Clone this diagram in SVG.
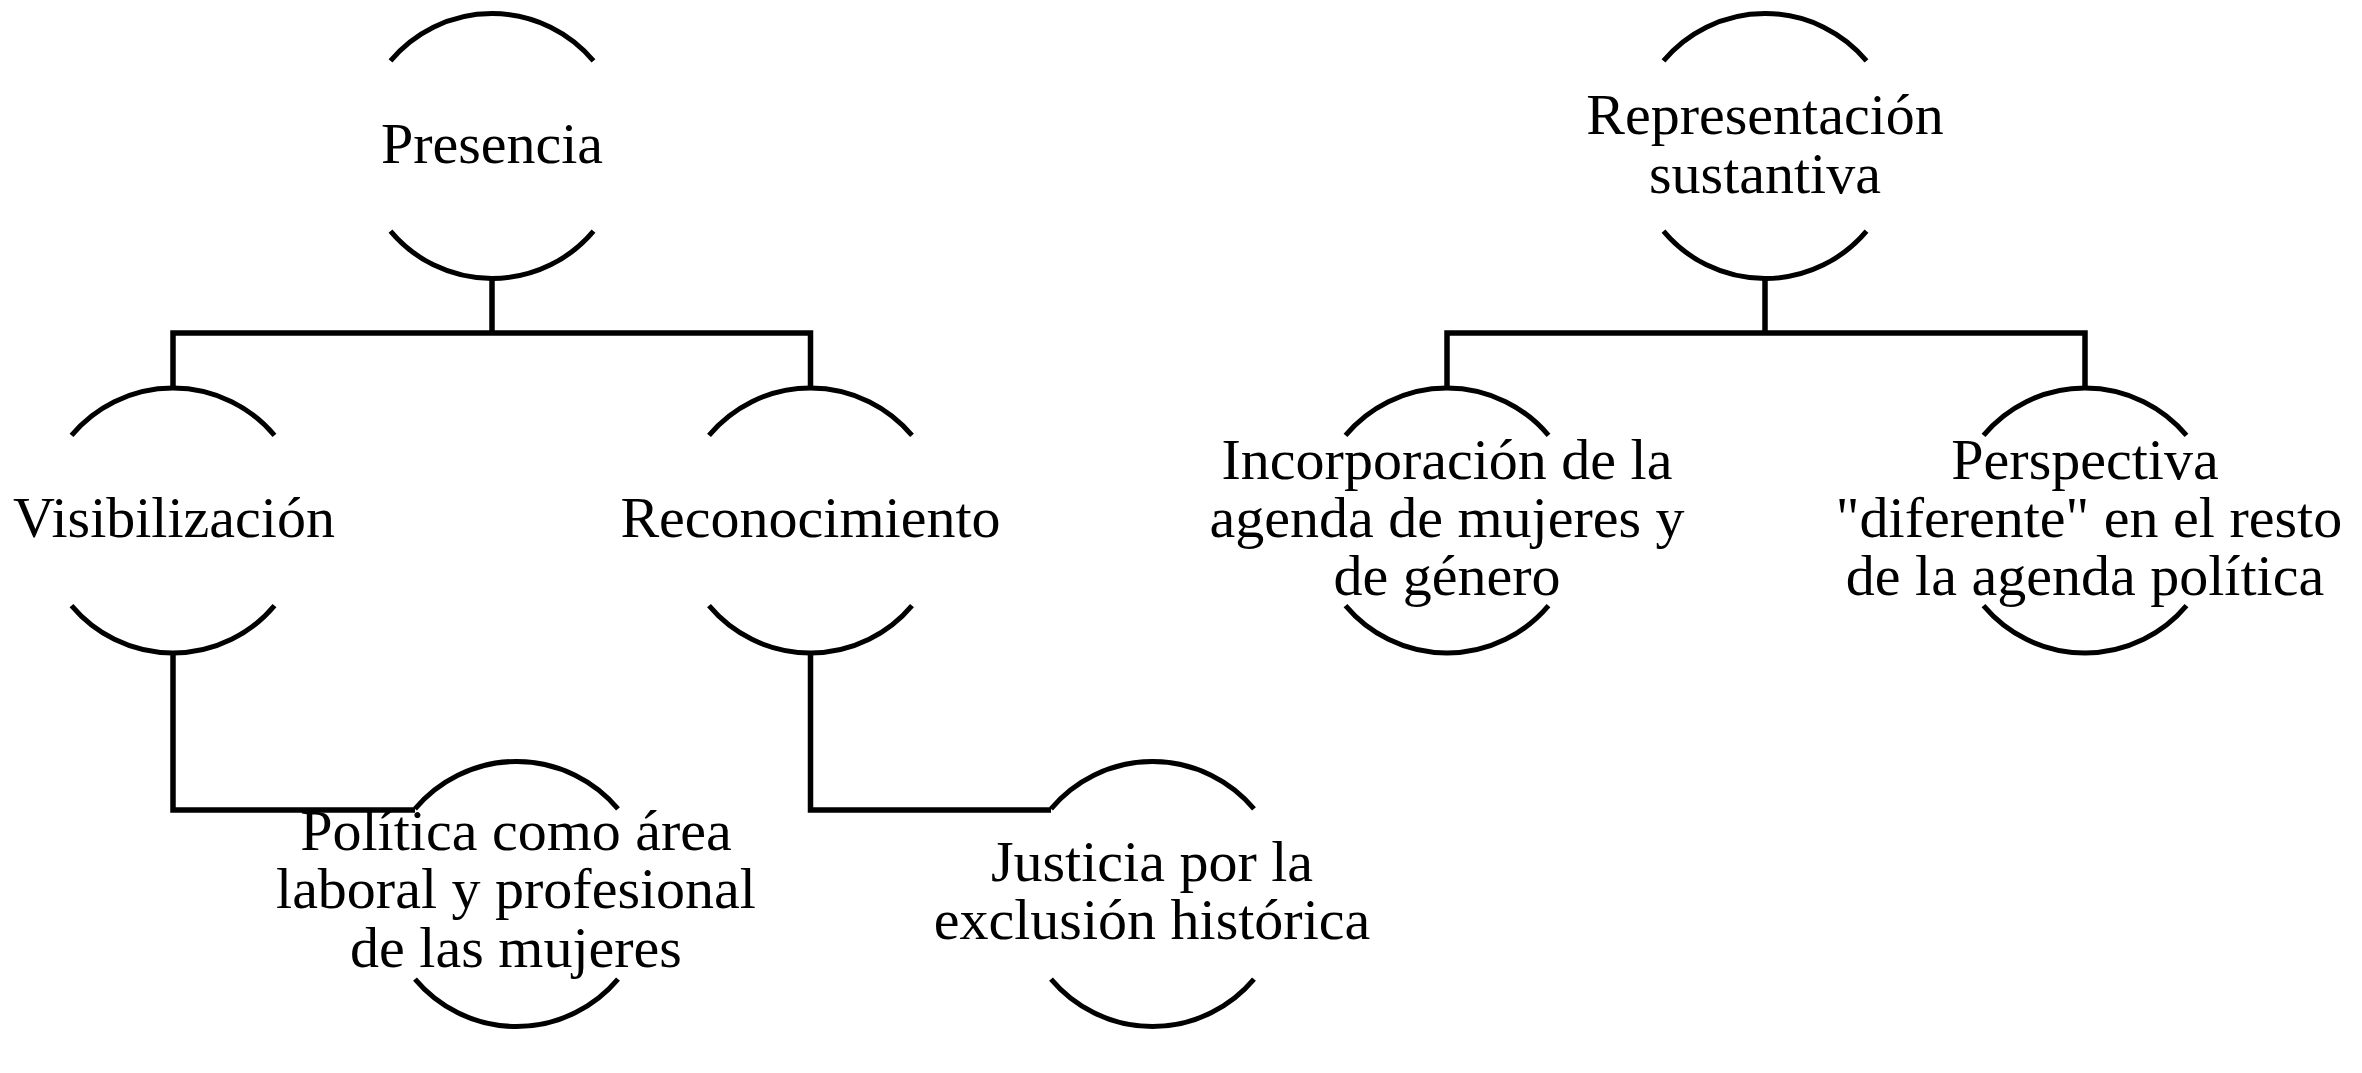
<svg xmlns="http://www.w3.org/2000/svg" xmlns:xlink="http://www.w3.org/1999/xlink" width="2362" height="1073" viewBox="0 0 2362 1073">
<style>
.arc{fill:none;stroke:#000;stroke-width:5}
.con{fill:none;stroke:#000;stroke-width:5.5;stroke-linejoin:miter}
.lbl{font-family:"Liberation Serif","Times New Roman",serif;font-size:58px;fill:#000;text-anchor:middle}
</style>
<defs>
<path id="ring" class="arc" d="M -101.5 -85.2 A 132.5 132.5 0 0 1 101.5 -85.2 M -101.5 85.2 A 132.5 132.5 0 0 0 101.5 85.2"/>
</defs>
<rect width="2362" height="1073" fill="#fff"/>
<g id="connectors">
<path class="con" d="M492 278 V333 M173 390 V333 H810.5 V390"/>
<path class="con" d="M1765 278 V333 M1447 390 V333 H2085 V390"/>
<path class="con" d="M173 652 V810 H415"/>
<path class="con" d="M810.5 652 V810 H1051"/>
</g>
<g id="presencia">
<use xlink:href="#ring" transform="translate(492,146)"/>
<text class="lbl" x="492" y="163">Presencia</text>
</g>
<g id="representacion">
<use xlink:href="#ring" transform="translate(1765,146)"/>
<text class="lbl" x="1765" y="134">Representación</text>
<text class="lbl" x="1765" y="193">sustantiva</text>
</g>
<g id="visibilizacion">
<use xlink:href="#ring" transform="translate(173,520.5)"/>
<text class="lbl" x="174" y="537">Visibilización</text>
</g>
<g id="reconocimiento">
<use xlink:href="#ring" transform="translate(810.5,520.5)"/>
<text class="lbl" x="810.5" y="537">Reconocimiento</text>
</g>
<g id="incorporacion">
<use xlink:href="#ring" transform="translate(1447,520.5)"/>
<text class="lbl" x="1447" y="479">Incorporación de la</text>
<text class="lbl" x="1447" y="537">agenda de mujeres y</text>
<text class="lbl" x="1447" y="595">de género</text>
</g>
<g id="perspectiva">
<use xlink:href="#ring" transform="translate(2085,520.5)"/>
<text class="lbl" x="2085" y="479">Perspectiva</text>
<text class="lbl" x="2089" y="537">"diferente" en el resto</text>
<text class="lbl" x="2085" y="595">de la agenda política</text>
</g>
<g id="politica">
<use xlink:href="#ring" transform="translate(516.5,894)"/>
<text class="lbl" x="516" y="850">Política como área</text>
<text class="lbl" x="516" y="908">laboral y profesional</text>
<text class="lbl" x="516" y="967">de las mujeres</text>
</g>
<g id="justicia">
<use xlink:href="#ring" transform="translate(1152.5,894)"/>
<text class="lbl" x="1152" y="881">Justicia por la</text>
<text class="lbl" x="1152" y="939">exclusión histórica</text>
</g>
</svg>
